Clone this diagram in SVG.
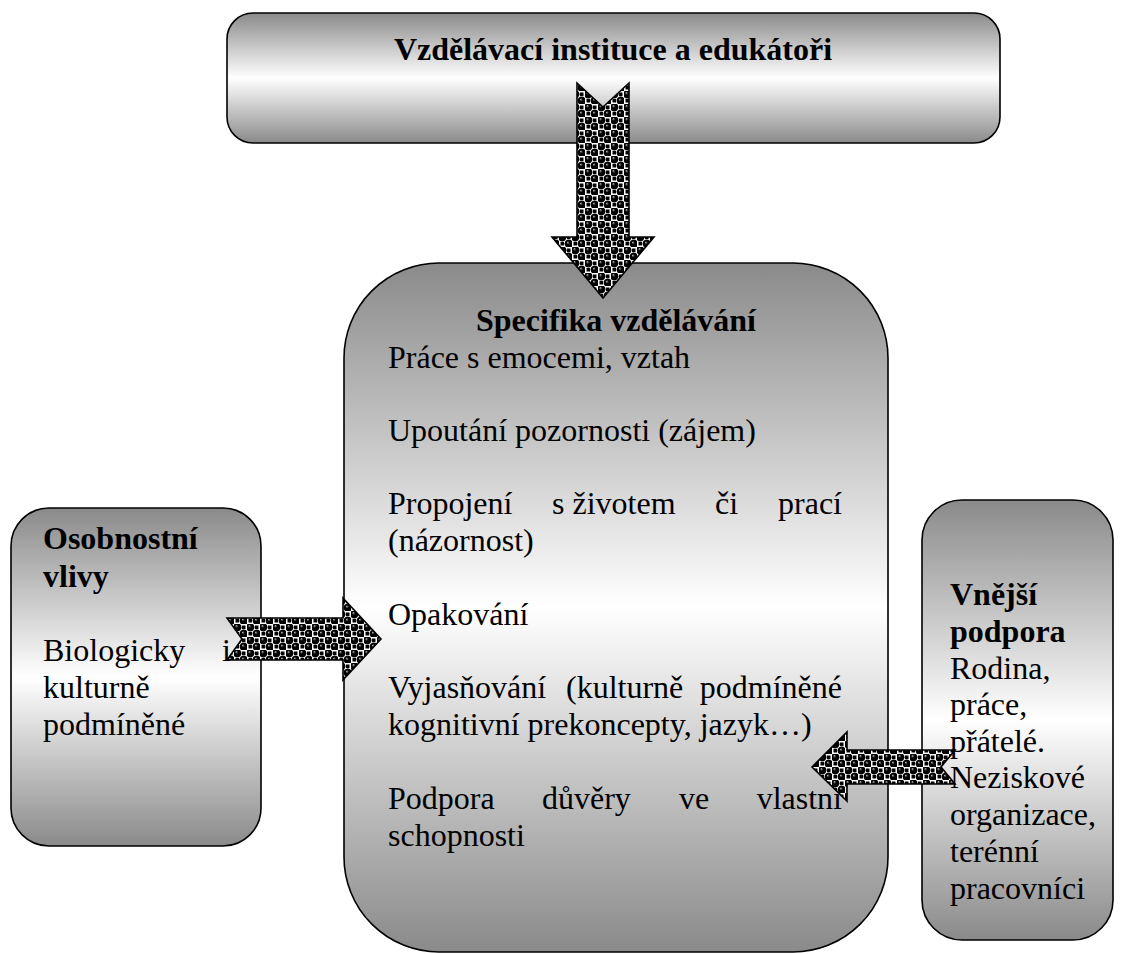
<svg xmlns="http://www.w3.org/2000/svg" width="1128" height="954" viewBox="0 0 1128 954">
<style>
.box{stroke:#000;stroke-width:1.6;fill:url(#g)}
.arr{fill:url(#dots);stroke:#000;stroke-width:1.6;stroke-linejoin:miter}
text{font-family:"Liberation Serif","Times New Roman",serif;font-size:32px;fill:#000}
.b{font-weight:bold}
</style>
<defs>
<linearGradient id="g" x1="0" y1="0" x2="0" y2="1">
<stop offset="0" stop-color="#8a8a8a"/>
<stop offset="0.5" stop-color="#ffffff"/>
<stop offset="1" stop-color="#8a8a8a"/>
</linearGradient>
<radialGradient id="sph" cx="0.5" cy="0.5" r="0.5" fx="0.38" fy="0.32">
<stop offset="0" stop-color="#ffffff"/>
<stop offset="0.15" stop-color="#666"/>
<stop offset="0.4" stop-color="#000"/>
<stop offset="1" stop-color="#000"/>
</radialGradient>
<pattern id="dots" width="13" height="13" patternUnits="userSpaceOnUse">
<rect width="13" height="13" fill="#fff"/>
<rect x="8" y="1.5" width="3.5" height="3.5" fill="#000"/>
<rect x="1.5" y="8" width="3.5" height="3.5" fill="#000"/>
<circle cx="3.25" cy="3.25" r="4.2" fill="url(#sph)"/>
<circle cx="9.75" cy="9.75" r="4.2" fill="url(#sph)"/>
</pattern>
</defs>

<g id="node-top">
<rect class="box" x="227" y="13" width="773" height="130" rx="26"/>
<text class="b" x="613" y="60" text-anchor="middle">Vzdělávací instituce a edukátoři</text>
</g>

<g id="node-center">
<rect class="box" x="344" y="263" width="544" height="689" rx="95"/>
<text class="b" x="616" y="331" text-anchor="middle">Specifika vzdělávání</text>
<text x="388" y="368">Práce s emocemi, vztah</text>
<text x="388" y="441">Upoutání pozornosti (zájem)</text>
<text x="388" y="514">Propojení</text>
<text x="552" y="514">s životem</text>
<text x="715" y="514">či</text>
<text x="842" y="514" text-anchor="end">prací</text>
<text x="388" y="551">(názornost)</text>
<text x="388" y="625">Opakování</text>
<text x="388" y="698">Vyjasňování</text>
<text x="566" y="698">(kulturně</text>
<text x="842" y="698" text-anchor="end">podmíněné</text>
<text x="388" y="735">kognitivní prekoncepty, jazyk…)</text>
<text x="388" y="809">Podpora</text>
<text x="542" y="809">důvěry</text>
<text x="679" y="809">ve</text>
<text x="842" y="809" text-anchor="end">vlastni</text>
<text x="388" y="846">schopnosti</text>
</g>

<g id="node-left">
<rect class="box" x="11" y="508" width="250" height="338" rx="38"/>
<text class="b" x="43" y="549">Osobnostní</text>
<text class="b" x="43" y="587">vlivy</text>
<text x="43" y="661">Biologicky</text>
<text x="222" y="661">i</text>
<text x="43" y="698">kulturně</text>
<text x="43" y="735">podmíněné</text>
</g>

<g id="node-right">
<rect class="box" x="922" y="500" width="191" height="440" rx="40"/>
<text class="b" x="950" y="605">Vnější</text>
<text class="b" x="950" y="642">podpora</text>
<text x="950" y="679">Rodina,</text>
<text x="950" y="715">práce,</text>
<text x="950" y="752">přátelé.</text>
<text x="950" y="788">Neziskové</text>
<text x="950" y="825">organizace,</text>
<text x="950" y="862">terénní</text>
<text x="950" y="899">pracovníci</text>
</g>

<g id="connectors">
<polygon class="arr" points="577,83 603,107 629,83 629,237 654,237 603,298 552,237 577,237"/>
<polygon class="arr" points="227,618 343,618 343,598 381,639 343,680 343,660 227,660 242,639"/>
<polygon class="arr" points="812,767 847,732 847,750 955,750 941,767 955,784 847,784 847,801"/>
</g>
</svg>
